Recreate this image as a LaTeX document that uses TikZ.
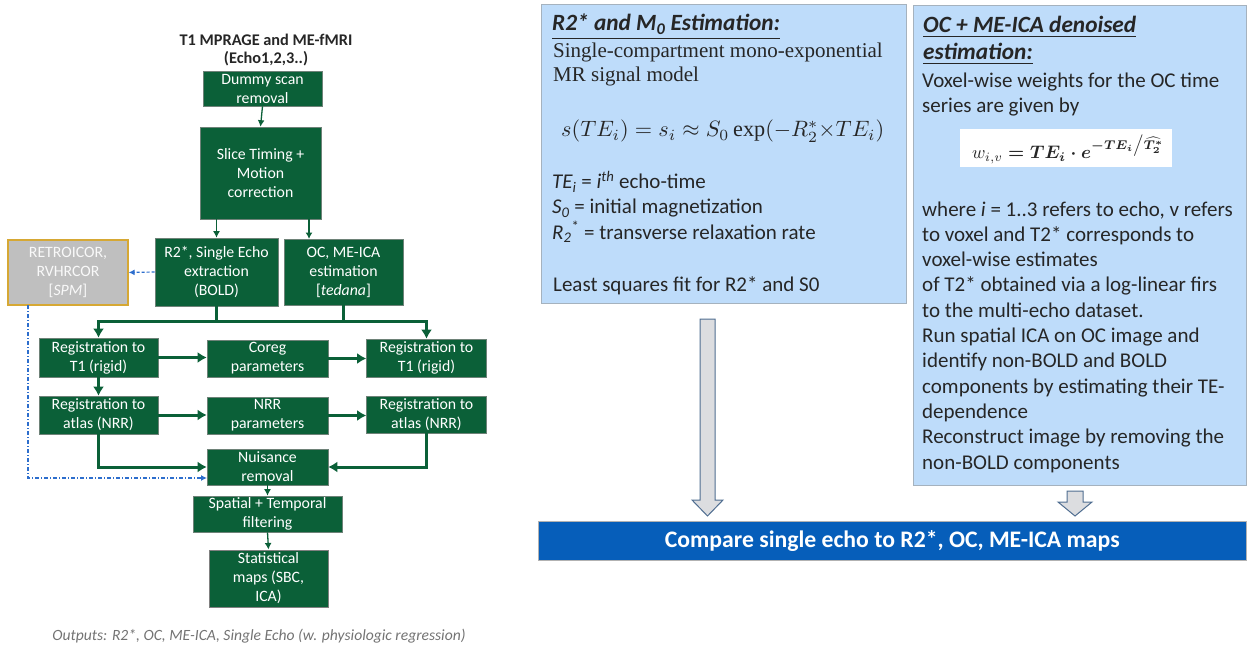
\documentclass[tikz,border=0pt]{standalone}
\usepackage{fontspec}
\usepackage{amsmath}
\usepackage{graphicx}
\setmainfont{Carlito}
\newfontfamily\timesfont{Liberation Serif}
\usetikzlibrary{arrows.meta}
\definecolor{fgreen}{RGB}{11,96,56}
\definecolor{gborder}{RGB}{110,130,120}
\definecolor{lblue}{RGB}{190,220,250}
\definecolor{panelline}{RGB}{165,178,190}
\definecolor{barblue}{RGB}{6,94,186}
\definecolor{dblue}{RGB}{45,110,205}
\definecolor{retrofill}{RGB}{191,191,191}
\definecolor{retroline}{RGB}{214,168,52}
\definecolor{arrfill}{RGB}{220,221,224}
\definecolor{arrline}{RGB}{80,110,145}
\definecolor{ink}{RGB}{38,38,38}
\definecolor{capgray}{RGB}{115,115,115}
\tikzset{
  gbox/.style={rectangle, fill=fgreen, draw=gborder, line width=0.6pt, text=white,
    align=center, inner sep=0pt, font=\fontsize{15.8}{19}\selectfont},
  thinarr/.style={draw=fgreen, line width=1.3pt, -{Latex[length=6.5pt,width=7pt]}},
  thickarr/.style={draw=fgreen, line width=3pt, -{Latex[length=9pt,width=11pt]}},
  thickline/.style={draw=fgreen, line width=3pt},
  panel/.style={rectangle, draw=panelline, fill=lblue, line width=0.8pt, inner sep=0pt},
  bodytxt/.style={anchor=base west, inner sep=0pt, text=ink, font=\fontsize{21}{25}\selectfont},
  seriftxt/.style={anchor=base west, inner sep=0pt, text=ink, font=\timesfont\fontsize{21}{24}\selectfont},
  headtxt/.style={anchor=base west, inner sep=0pt, text=ink, font=\bfseries\itshape\fontsize{23.3}{27}\selectfont},
  blockarr/.style={draw=arrline, fill=arrfill, line width=1pt, line join=miter},
}
\begin{document}
\begin{tikzpicture}[x=1pt,y=-1pt]
\useasboundingbox (0,0) rectangle (1247,647);

% ---------------- left flowchart ----------------
\node[align=center, inner sep=0pt, font=\bfseries\fontsize{16.3}{18}\selectfont, text=ink] (title) at (266,50) {T1 MPRAGE and ME-fMRI\\(Echo1,2,3..)};

\node[gbox, minimum width=119pt, minimum height=35pt] (dummy) at (262.5,88.5) {Dummy scan\\removal};
\node[gbox, minimum width=121pt, minimum height=92pt] (slice) at (260.5,173) {Slice Timing +\\Motion\\correction};
\node[rectangle, fill=retrofill, draw=retroline, line width=1.3pt, text=white!95!gray, align=center,
      inner sep=0pt, font=\fontsize{15.8}{19}\selectfont, minimum width=120pt, minimum height=65pt] (retro) at (68,272.5) {RETROICOR,\\RVHRCOR\\{[}\textit{SPM}{]}};
\node[gbox, minimum width=123pt, minimum height=68pt] (r2) at (216.5,272) {R2*, Single Echo\\extraction\\(BOLD)};
\node[gbox, minimum width=119pt, minimum height=66pt] (oc) at (343.5,272) {OC, ME-ICA\\estimation\\{[}\textit{tedana}{]}};

\node[gbox, minimum width=119pt, minimum height=39pt] (regT1L) at (98.5,357.5) {Registration to\\T1 (rigid)};
\node[gbox, minimum width=121pt, minimum height=37pt] (coreg) at (267.5,358.5) {Coreg\\parameters};
\node[gbox, minimum width=120pt, minimum height=38pt] (regT1R) at (426.5,358) {Registration to\\T1 (rigid)};

\node[gbox, minimum width=119pt, minimum height=38pt] (regAtL) at (98.5,415) {Registration to\\atlas (NRR)};
\node[gbox, minimum width=121pt, minimum height=37pt] (nrr) at (267.5,415.5) {NRR\\parameters};
\node[gbox, minimum width=120pt, minimum height=37pt] (regAtR) at (426.5,414.5) {Registration to\\atlas (NRR)};

\node[gbox, minimum width=121pt, minimum height=36pt] (nuis) at (267.5,467) {Nuisance\\removal};
\node[gbox, minimum width=149pt, minimum height=36pt] (spat) at (267.5,514) {Spatial + Temporal\\filtering};
\node[gbox, draw=gray, line width=1pt, minimum width=119pt, minimum height=57pt] (stat) at (268.5,578.5) {Statistical\\maps (SBC,\\ICA)};

\node[inner sep=0pt, text=capgray, font=\itshape\fontsize{15.6}{18}\selectfont] (caption) at (259,636) {Outputs: R2*, OC, ME-ICA, Single Echo (w. physiologic regression)};

% connectors
\coordinate (ocin) at (309,239);
\coordinate (hubL) at (216.5,321);
\coordinate (rtop) at (28,305);
\coordinate (nuisin) at (207,478);

\draw[thinarr] (dummy.south) -- (slice.north);
\draw[thinarr] (slice.south -| r2.north) -- (r2.north);
\draw[thinarr] (slice.south -| ocin) -- (ocin);
\draw[dblue, line width=1.2pt, densely dashed, -{Latex[length=6pt,width=6pt]}] (r2.west) -- (retro.east);
\draw[dblue, line width=1.2pt, dash pattern=on 4pt off 2pt on 1pt off 2pt, -{Latex[length=6pt,width=6pt]}] (rtop) |- (nuisin);

\draw[thickline] (r2.south) -- (hubL);
\draw[thickline] (oc.south) -- (oc.south |- hubL);
\draw[thickarr] (hubL) -| (regT1L.north);
\draw[thickarr] (hubL) -| (regT1R.north);
\draw[thickarr] (regT1L.east) -- (regT1L.east -| coreg.west);
\draw[thickarr] (coreg.east) -- (coreg.east -| regT1R.west);
\draw[thickarr] (regT1L.south) -- (regAtL.north);
\draw[thickarr] (regAtL.east) -- (regAtL.east -| nrr.west);
\draw[thickarr] (nrr.east) -- (nrr.east -| regAtR.west);
\draw[thickarr] (regAtL.south) |- (nuis.west);
\draw[thickarr] (regAtR.south) |- (nuis.east);
\draw[thinarr] (nuis.south) -- (spat.north);
\draw[thinarr] (spat.south) -- (stat.north);

% ---------------- middle panel ----------------
\node[panel, minimum width=365pt, minimum height=299pt, anchor=north west] (mid) at (541,4) {};
\node[headtxt] (midhead) at (552,31) {\underline{R2* and M\textsubscript{0} Estimation:}};
\node[seriftxt] (mid1) at (553,58) {Single-compartment mono-exponential};
\node[seriftxt] (mid2) at (553,82) {MR signal model};
\node[anchor=base west, inner sep=0pt, text=ink] (eq) at (561,137) {\resizebox{323pt}{!}{$s(TE_i) = s_i \approx S_0\mathop{\text{\timesfont exp}}(-R_2^{*}{\times}TE_i)$}};
\node[bodytxt] (mid3) at (552,189) {\textit{TE\textsubscript{i}} = \textit{i}\textsuperscript{\textit{th}} echo-time};
\node[bodytxt] (mid4) at (552,214) {\textit{S\textsubscript{0}} = initial magnetization};
\node[bodytxt] (mid5) at (552,239) {\textit{R\textsubscript{2}}\textsuperscript{*} = transverse relaxation rate};
\node[bodytxt] (mid6) at (553,291) {Least squares fit for R2* and S0};

% ---------------- right panel ----------------
\node[panel, minimum width=333pt, minimum height=480pt, anchor=north west] (right) at (913,5) {};
\node[headtxt] (righthead1) at (923,33) {\underline{OC + ME-ICA denoised}};
\node[headtxt] (righthead2) at (923,60) {\underline{estimation:}};
\node[bodytxt] (r1) at (922,88) {Voxel-wise weights for the OC time};
\node[bodytxt] (r2t) at (922,113) {series are given by};
\node[rectangle, fill=white, inner sep=0pt, minimum width=212pt, minimum height=38pt, anchor=north west] (wbox) at (960,129) {};
\node[inner sep=0pt, text=ink] (wform) at (1068,149) {\resizebox{192pt}{!}{$w_{i,v} \boldsymbol{= TE_i \cdot e^{-TE_i\big/\widehat{T_2^{*}}}}$}};
\foreach \t [count=\k from 0] in {
  {where \textit{i} = 1..3 refers to echo, v refers},
  {to voxel and T2* corresponds to},
  {voxel-wise estimates},
  {of T2* obtained via a log-linear firs},
  {to the multi-echo dataset.},
  {Run spatial ICA on OC image and},
  {identify non-BOLD and BOLD},
  {components by estimating their TE-},
  {dependence},
  {Reconstruct image by removing the},
  {non-BOLD components}}
  \node[bodytxt] (rl\k) at (922,{216+25.3*\k}) {\t};

% ---------------- block arrows and bar ----------------
\draw[blockarr] (700,319) -- (715,319) -- (715,500) -- (723,500) -- (707.5,516) -- (692,500) -- (700,500) -- cycle;
\draw[blockarr] (1067,491) -- (1083,491) -- (1083,502) -- (1092,502) -- (1075,516) -- (1058,502) -- (1067,502) -- cycle;
\node[rectangle, fill=barblue, draw=gray!60, line width=0.6pt, minimum width=708pt, minimum height=39pt,
      anchor=north west, inner sep=0pt, text=white, font=\bfseries\fontsize{23.7}{26}\selectfont] (bar) at (538,521) {Compare single echo to R2*, OC, ME-ICA maps};
\end{tikzpicture}
\end{document}
